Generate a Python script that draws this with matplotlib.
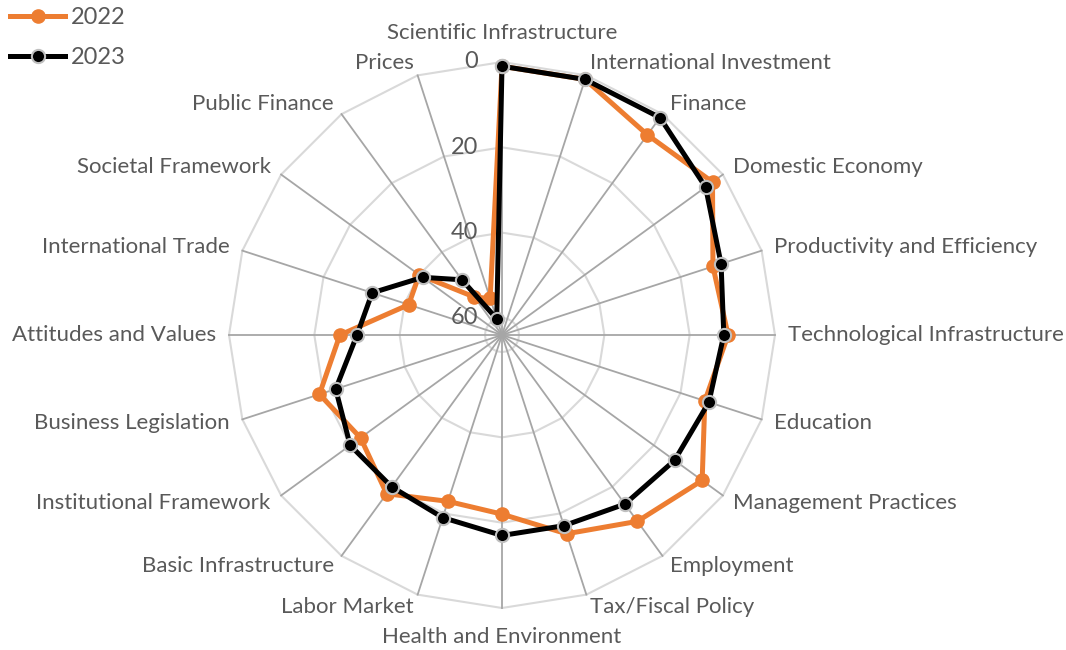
import numpy as np
import matplotlib
matplotlib.use("Agg")
import matplotlib.pyplot as plt
from matplotlib.lines import Line2D

categories = [
    "Scientific Infrastructure", "International Investment", "Finance",
    "Domestic Economy", "Productivity and Efficiency", "Technological Infrastructure",
    "Education", "Management Practices", "Employment", "Tax/Fiscal Policy",
    "Health and Environment", "Labor Market", "Basic Infrastructure",
    "Institutional Framework", "Business Legislation", "Attitudes and Values",
    "International Trade", "Societal Framework", "Public Finance", "Prices",
]
rank_2022 = [1, 1, 6, 3, 12, 11, 14, 6, 10, 15, 22, 23, 18, 23, 19, 26, 41, 40, 53, 55]
rank_2023 = [1, 1, 1, 5, 10, 12, 13, 14, 15, 17, 17, 19, 20, 20, 23, 30, 32, 41, 48, 60]
series_names = ["2022", "2023"]
tick_values = [0, 20, 40, 60]
axis_max = 64  # ranks run from 0 (outer edge) to 64 (centre)

plt.rcParams['font.family'] = ['Lato', 'DejaVu Sans']
TXT = '#595959'
ORANGE = '#ED7D31'

W, H = 1066, 650
fig = plt.figure(figsize=(W / 100, H / 100), dpi=100)
cx, cy, R = 502, 335, 273
ax = fig.add_axes([(cx - R) / W, (H - cy - R) / H, 2 * R / W, 2 * R / H], projection='polar')
ax.set_theta_zero_location('N')
ax.set_theta_direction(-1)
ax.set_ylim(0, axis_max)
ax.axis('off')

n = len(categories)
theta = np.arange(n) * 2 * np.pi / n
theta_closed = np.append(theta, theta[0])

# polygon gridlines
for v in tick_values:
    rr = np.full(n + 1, axis_max - v)
    ax.plot(theta_closed, rr, color='#d9d9d9', lw=1.5, zorder=1, clip_on=False)
# spokes
for t in theta:
    ax.plot([t, t], [0, axis_max], color='#a6a6a6', lw=1.3, zorder=2, clip_on=False)

def to_r(vals):
    r = [axis_max - v for v in vals]
    return np.append(r, r[0])

ax.plot(theta_closed, to_r(rank_2022), color=ORANGE, lw=3.6, marker='o', ms=9.5,
        mfc=ORANGE, mec=ORANGE, zorder=3, clip_on=False, solid_joinstyle='round')
ax.plot(theta_closed, to_r(rank_2023), color='black', lw=3.6, marker='o', ms=9.5,
        mfc='black', mec='#bfbfbf', mew=1.5, zorder=4, clip_on=False, solid_joinstyle='round')

# category labels
fs = 16
for t, lab in zip(theta, categories):
    s, c = np.sin(t), np.cos(t)
    if abs(s) < 1e-6:
        off = (0, 29 * np.sign(c))
        ha = 'center'
    else:
        off = (13 * s, 13 * c)
        ha = 'left' if s > 0 else 'right'
    ax.annotate(lab, xy=(t, axis_max), xytext=off, textcoords='offset pixels',
                ha=ha, va='center', fontsize=fs, color=TXT, annotation_clip=False)

# radial tick labels
for v in tick_values:
    ax.annotate(str(v), xy=(0, axis_max - v), xytext=(-24, 0), textcoords='offset pixels',
                ha='right', va='center', fontsize=17, color=TXT, annotation_clip=False)

handles = [
    Line2D([], [], color=ORANGE, lw=3.6, marker='o', ms=9.5, mfc=ORANGE, mec=ORANGE),
    Line2D([], [], color='black', lw=3.6, marker='o', ms=9.5, mfc='black', mec='#bfbfbf', mew=1.5),
]
fig.legend(handles, series_names, loc='upper left', bbox_to_anchor=(8 / W, 1 - 5 / H),
           frameon=False, fontsize=17, labelcolor=TXT, handlelength=2.3,
           handletextpad=0.25, labelspacing=0.8, borderaxespad=0.0, borderpad=0.1)

fig.savefig('out.png', dpi=100)
